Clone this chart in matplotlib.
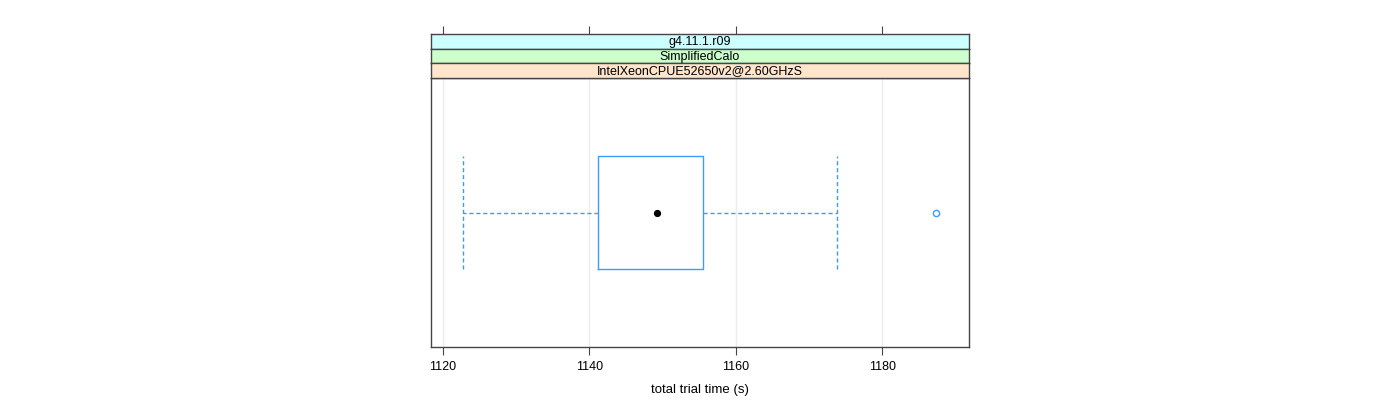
import matplotlib
matplotlib.use("Agg")
import matplotlib.pyplot as plt

plt.rcParams['font.family'] = ['Liberation Sans', 'DejaVu Sans']

# data (seconds)
whisker_lo = 1122.75
q1 = 1141.2
median = 1149.25
q3 = 1155.5
whisker_hi = 1173.75
outliers = [1187.4]

strip_labels = ["g4.11.1.r09", "SimplifiedCalo", "IntelXeonCPUE52650v2@2.60GHzS"]
strip_colors = ["#ccffff", "#ccffcc", "#ffe5cc"]
xticks = [1120, 1140, 1160, 1180]
xlim = (1118.35, 1191.85)

box_col = "#3d9bff"
frame_col = "#454545"

fig = plt.figure(figsize=(14, 4), dpi=100)
W, H = 1400.0, 400.0

# main panel
ax = fig.add_axes([431 / W, 1 - 347 / H, 538 / W, 269 / H])
ax.set_xlim(*xlim)
ax.set_ylim(0.4, 1.6)
for x in xticks:
    ax.axvline(x, color="#ececec", lw=1, zorder=0)

stats = [dict(med=median, q1=q1, q3=q3, whislo=whisker_lo, whishi=whisker_hi, fliers=outliers)]
ax.bxp(stats, positions=[1], widths=0.5, vert=False, showfliers=True,
       boxprops=dict(color=box_col, lw=1),
       whiskerprops=dict(color=box_col, lw=1, linestyle=(0, (3, 2))),
       capprops=dict(color=box_col, lw=1, linestyle=(0, (3, 2))),
       capwidths=0.5,
       medianprops=dict(lw=0),
       flierprops=dict(marker="o", markerfacecolor="none", markeredgecolor=box_col,
                       markersize=4.5, markeredgewidth=1))
ax.plot([median], [1], "o", color="black", markersize=4.2, zorder=5)

ax.set_yticks([])
ax.set_xticks(xticks)
ax.set_xticklabels([str(t) for t in xticks], fontsize=9)
ax.tick_params(axis="x", direction="out", length=6, color=frame_col, pad=4)
ax.set_xlabel("total trial time (s)", fontsize=9.5, labelpad=8)
for s in ax.spines.values():
    s.set_color(frame_col)
    s.set_linewidth(1)

# strips, top to bottom
strip_h = 14.6
for i, (lab, col) in enumerate(zip(strip_labels, strip_colors)):
    top = 34 + i * strip_h
    sax = fig.add_axes([431 / W, 1 - (top + strip_h) / H, 538 / W, strip_h / H])
    sax.set_facecolor(col)
    sax.set_xlim(*xlim)
    sax.set_yticks([])
    sax.text(0.5, 0.45, lab, transform=sax.transAxes, ha="center", va="center", fontsize=9)
    for s in sax.spines.values():
        s.set_color(frame_col)
        s.set_linewidth(1)
    if i == 0:
        sax.set_xticks(xticks)
        sax.xaxis.tick_top()
        sax.tick_params(axis="x", direction="out", length=6, color=frame_col, labeltop=False)
    else:
        sax.set_xticks([])

fig.savefig("out.png", dpi=100)
